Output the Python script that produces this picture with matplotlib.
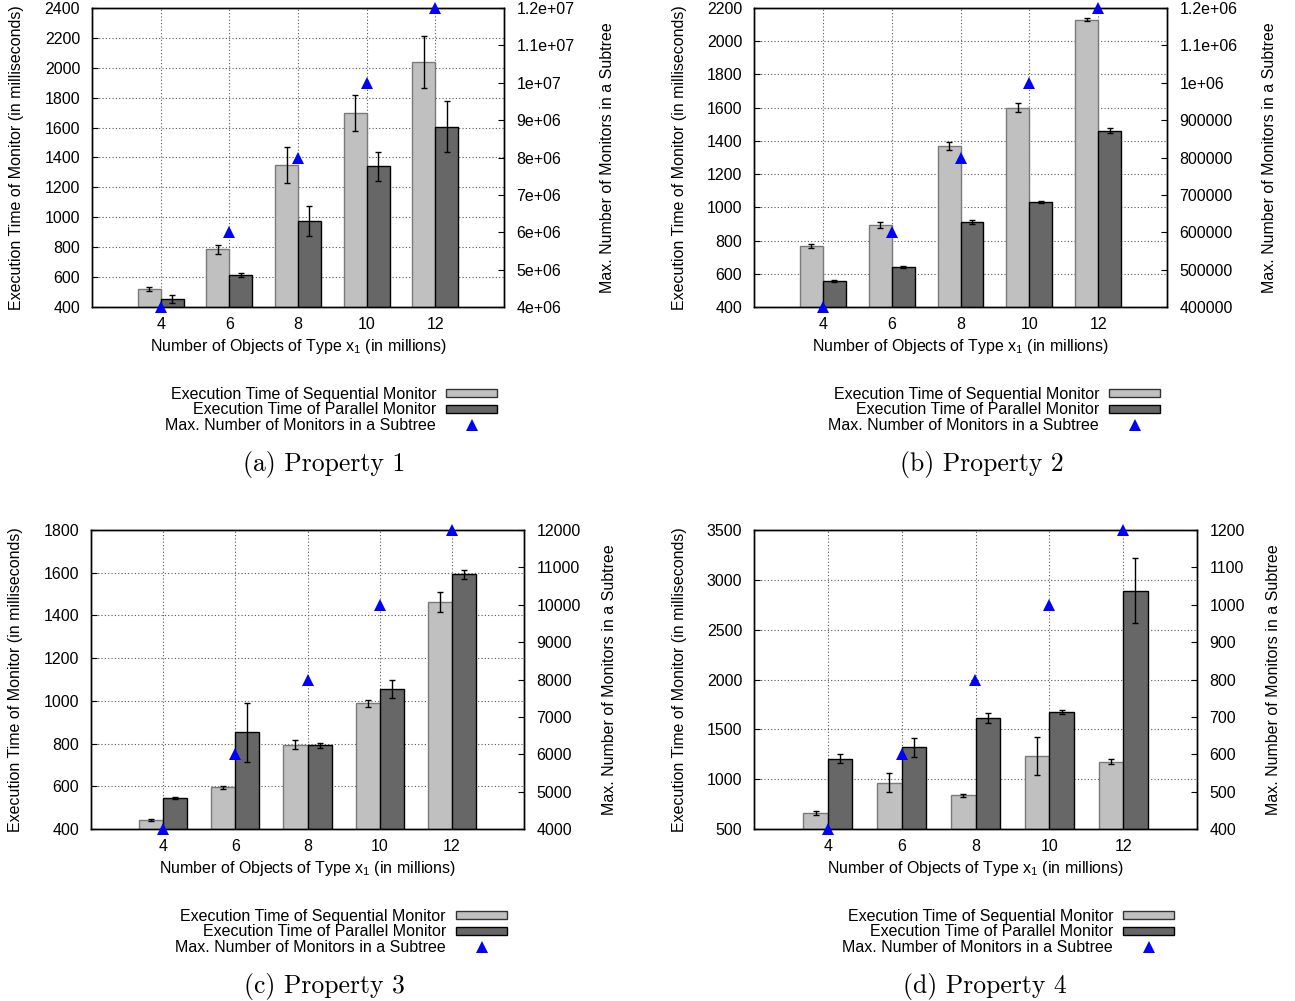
import matplotlib
matplotlib.use("Agg")
import matplotlib.pyplot as plt
from matplotlib.patches import Rectangle
from matplotlib.lines import Line2D
from matplotlib.ticker import FuncFormatter, MultipleLocator

plt.rcParams['font.family'] = 'Liberation Sans'
plt.rcParams['mathtext.fontset'] = 'custom'
plt.rcParams['mathtext.rm'] = 'Liberation Sans'
plt.rcParams['font.size'] = 11.5

W, H = 1295, 1001

objects = [4, 6, 8, 10, 12]

# Property 1
p1_seq = [518, 787, 1349, 1698, 2038]
p1_seq_err = [13, 30, 122, 120, 175]
p1_par = [453, 612, 975, 1340, 1605]
p1_par_err = [26, 14, 99, 97, 170]
p1_monitors = [4e6, 6e6, 8e6, 1e7, 1.2e7]

# Property 2
p2_seq = [765, 893, 1372, 1601, 2130]
p2_seq_err = [12, 19, 24, 28, 11]
p2_par = [554, 638, 911, 1031, 1462]
p2_par_err = [6, 6, 12, 6, 13]
p2_monitors = [4e5, 6e5, 8e5, 1e6, 1.2e6]

# Property 3
p3_seq = [444, 595, 795, 988, 1464]
p3_seq_err = [5, 8, 20, 15, 47]
p3_par = [545, 852, 791, 1055, 1592]
p3_par_err = [5, 140, 11, 42, 21]
p3_monitors = [4000, 6000, 8000, 10000, 12000]

# Property 4
p4_seq = [661, 962, 838, 1230, 1176]
p4_seq_err = [17, 95, 15, 189, 25]
p4_par = [1207, 1320, 1615, 1675, 2890]
p4_par_err = [42, 95, 49, 23, 327]
p4_monitors = [400, 600, 800, 1000, 1200]

captions = ['(a) Property 1', '(b) Property 2', '(c) Property 3', '(d) Property 4']
legend_labels = ['Execution Time of Sequential Monitor',
                 'Execution Time of Parallel Monitor',
                 'Max. Number of Monitors in a Subtree']

LIGHT = '#c0c0c0'
DARK = '#676767'
BLUE = '#0000ff'
BAR_W = 2 / 3


def px(x, y):
    return x / W, 1 - y / H


def sci(v, pos):
    return f"{v:g}"


panels = [
    dict(seq=p1_seq, seq_err=p1_seq_err, par=p1_par, par_err=p1_par_err, mon=p1_monitors,
         box=(92, 8, 504, 307), ylim=(400, 2400), ystep=200, y2lim=(4e6, 1.2e7), y2step=1e6,
         ylab_x=17, y2lab_x=608, xlab_y=351, leg_x=436, leg_y=393, cap=(324, 465)),
    dict(seq=p2_seq, seq_err=p2_seq_err, par=p2_par, par_err=p2_par_err, mon=p2_monitors,
         box=(754, 8, 1167, 307), ylim=(400, 2200), ystep=200, y2lim=(4e5, 1.2e6), y2step=1e5,
         ylab_x=680, y2lab_x=1270, xlab_y=351, leg_x=1099, leg_y=393, cap=(982, 465)),
    dict(seq=p3_seq, seq_err=p3_seq_err, par=p3_par, par_err=p3_par_err, mon=p3_monitors,
         box=(91, 530, 524, 829), ylim=(400, 1800), ystep=200, y2lim=(4000, 12000), y2step=1000,
         ylab_x=16, y2lab_x=610, xlab_y=873, leg_x=446, leg_y=915, cap=(324, 986)),
    dict(seq=p4_seq, seq_err=p4_seq_err, par=p4_par, par_err=p4_par_err, mon=p4_monitors,
         box=(754, 530, 1197, 829), ylim=(500, 3500), ystep=500, y2lim=(400, 1200), y2step=100,
         ylab_x=680, y2lab_x=1273, xlab_y=873, leg_x=1113, leg_y=915, cap=(985, 986)),
]

fig = plt.figure(figsize=(W / 100, H / 100), dpi=100)

for p, caption in zip(panels, captions):
    l, t, r, b = p['box']
    ax = fig.add_axes([l / W, 1 - b / H, (r - l) / W, (b - t) / H])
    ax2 = ax.twinx()

    xs_seq = [x - BAR_W / 2 for x in objects]
    xs_par = [x + BAR_W / 2 for x in objects]
    ax.bar(xs_seq, p['seq'], width=BAR_W, bottom=0, color=LIGHT, edgecolor='#7a7a7a',
           linewidth=1.0, zorder=2)
    ax.bar(xs_par, p['par'], width=BAR_W, color=DARK, edgecolor='black',
           linewidth=1.0, zorder=2)
    ax.errorbar(xs_seq, p['seq'], yerr=p['seq_err'], fmt='none', ecolor='black',
                elinewidth=1.0, capsize=2.5, capthick=1.0, zorder=3)
    ax.errorbar(xs_par, p['par'], yerr=p['par_err'], fmt='none', ecolor='black',
                elinewidth=1.0, capsize=2.5, capthick=1.0, zorder=3)

    ax2.plot(objects, p['mon'], linestyle='none', marker='^', markersize=8,
             color=BLUE, markeredgewidth=0, clip_on=False, zorder=5)

    ax.set_xlim(2, 14)
    ax.set_xticks(objects)
    ax.set_ylim(*p['ylim'])
    ax.yaxis.set_major_locator(MultipleLocator(p['ystep']))
    ax2.set_ylim(*p['y2lim'])
    ax2.yaxis.set_major_locator(MultipleLocator(p['y2step']))
    ax2.yaxis.set_major_formatter(FuncFormatter(sci))

    ax.set_axisbelow(True)
    ax.grid(True, color='#555555', linestyle=(0, (1, 2)), linewidth=0.8)
    ax.tick_params(axis='y', direction='in', length=4, width=0.8, pad=8.5, right=False)
    ax.tick_params(axis='x', direction='in', length=4, width=0.8, pad=7.5, top=False)
    ax2.tick_params(axis='y', direction='in', length=4, width=0.8, pad=9)
    for a in (ax, ax2):
        for s in a.spines.values():
            s.set_linewidth(1.0)

    fig.text(*px(p['ylab_x'], (t + b) / 2), 'Execution Time of Monitor (in milliseconds)',
             rotation=90, ha='center', va='center')
    fig.text(*px(p['y2lab_x'], (t + b) / 2), 'Max. Number of Monitors in a Subtree',
             rotation=90, ha='center', va='center')
    fig.text(*px((l + r) / 2, p['xlab_y']),
             r'Number of Objects of Type x$_\mathregular{1}$ (in millions)',
             ha='center', va='baseline')

    # key below the plot: right-aligned labels, sample to the right
    lx, ly = p['leg_x'], p['leg_y']
    for i, label in enumerate(legend_labels):
        fig.text(*px(lx, ly + 16 * i + 1), label, ha='right', va='center')
    for i, (fc, ec) in enumerate([(LIGHT, '#333333'), (DARK, 'black')]):
        x0, y0 = px(lx + 10, ly + 16 * i + 4)
        fig.patches.append(Rectangle((x0, y0), 51 / W, 8 / H, transform=fig.transFigure,
                                     facecolor=fc, edgecolor=ec, linewidth=1.0))
    mx, my = px(lx + 35.5, ly + 32)
    fig.lines.append(Line2D([mx], [my], transform=fig.transFigure, marker='^',
                            markersize=8, color=BLUE, markeredgewidth=0))

    fig.text(*px(*p['cap']), caption, family='cmr10', fontsize=18.5, ha='center', va='center')

fig.savefig('out.png', dpi=100)
